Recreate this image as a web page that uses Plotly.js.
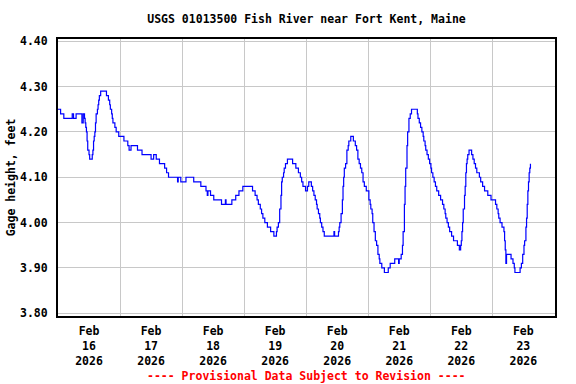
<!DOCTYPE html>
<html><head><meta charset="utf-8">
<script src="https://cdn.plot.ly/plotly-3.0.1.min.js"></script>
<style>html,body{margin:0;padding:0;background:#fff;}#chart{width:576px;height:384px;}</style>
</head><body><div id="chart"></div>
<script>
// Gage height readings (feet) at the times where the reading changed
const feb16Times = ['00:00','01:00','02:15','05:30','06:00','07:00','09:15','09:45','10:15','10:30','10:45','11:00','11:15','11:30','12:00','12:15','13:15','13:30','13:45','14:00','14:15','14:30','14:45','15:15','15:30','15:45','16:00','16:30','18:45','19:30','20:00','20:15','20:45','21:00','21:15','22:00','22:30','23:30'];
const feb16Values = [4.25,4.24,4.23,4.24,4.23,4.24,4.22,4.24,4.23,4.22,4.21,4.20,4.18,4.16,4.15,4.14,4.15,4.16,4.18,4.19,4.20,4.22,4.24,4.25,4.26,4.27,4.28,4.29,4.28,4.27,4.26,4.25,4.24,4.23,4.22,4.21,4.20,4.19];
const feb17Times = ['01:30','03:00','03:30','04:15','06:45','08:30','12:00','13:00','14:00','15:15','17:15','18:00','18:45','22:15','22:30','23:30'];
const feb17Values = [4.18,4.17,4.16,4.17,4.16,4.15,4.14,4.15,4.14,4.13,4.12,4.11,4.10,4.09,4.10,4.09];
const feb18Times = ['01:30','04:30','07:15','09:15','09:45','10:00','11:00','12:15','15:15','16:45','17:00','19:15','20:45','22:00','23:30'];
const feb18Values = [4.10,4.09,4.08,4.07,4.06,4.07,4.06,4.05,4.04,4.05,4.04,4.05,4.06,4.07,4.08];
const feb19Times = ['03:15','04:15','05:00','05:30','06:15','06:45','07:15','08:00','09:00','10:15','11:30','12:30','12:45','13:15','13:45','14:15','14:30','14:45','15:15','15:30','16:00','16:45','18:45','20:00','21:00','21:45','22:15','22:45','23:45'];
const feb19Values = [4.07,4.06,4.05,4.04,4.03,4.02,4.01,4.00,3.99,3.98,3.97,3.98,3.99,4.00,4.03,4.06,4.09,4.10,4.11,4.12,4.13,4.14,4.13,4.12,4.11,4.10,4.09,4.08,4.07];
const feb20Times = ['00:30','01:00','02:00','02:30','03:00','03:30','04:00','04:15','04:45','05:15','05:30','06:00','06:30','07:00','10:45','11:00','12:30','12:45','13:00','13:30','14:00','14:15','14:30','14:45','15:15','15:45','16:15','16:30','17:15','18:15','19:00','19:30','20:00','20:30','21:00','21:30','22:00','22:30','23:15'];
const feb20Values = [4.08,4.09,4.08,4.07,4.06,4.05,4.04,4.03,4.02,4.01,4.00,3.99,3.98,3.97,3.98,3.97,3.98,3.99,4.00,4.02,4.05,4.08,4.10,4.12,4.13,4.16,4.17,4.18,4.19,4.18,4.17,4.16,4.14,4.13,4.12,4.11,4.09,4.08,4.07];
const feb21Times = ['00:15','00:45','01:00','01:30','01:45','02:15','02:45','03:15','03:45','04:15','04:30','05:15','06:15','07:45','08:30','10:15','11:45','12:00','12:45','13:15','13:30','14:00','14:15','14:30','15:00','15:15','15:45','16:15','16:45','19:00','19:15','19:45','20:15','20:45','21:15','21:30','22:00','22:15','22:45','23:15','23:45'];
const feb21Values = [4.05,4.04,4.03,4.02,4.00,3.98,3.96,3.95,3.93,3.92,3.91,3.90,3.89,3.90,3.91,3.92,3.91,3.92,3.93,3.95,3.98,4.04,4.08,4.12,4.17,4.20,4.23,4.24,4.25,4.24,4.23,4.22,4.21,4.20,4.19,4.18,4.17,4.16,4.15,4.14,4.13];
const feb22Times = ['00:15','00:30','01:00','01:30','02:00','02:30','03:15','04:00','04:45','05:15','05:45','06:00','06:30','07:00','07:30','08:15','09:00','10:30','11:15','11:45','12:00','12:15','12:30','12:45','13:15','13:30','13:45','14:00','14:15','14:30','15:00','16:00','16:30','17:00','17:30','18:00','19:00','19:30','20:15','21:00','22:15','23:30'];
const feb22Values = [4.12,4.11,4.10,4.09,4.08,4.07,4.06,4.05,4.04,4.03,4.02,4.01,4.00,3.99,3.98,3.97,3.96,3.95,3.94,3.95,3.96,3.98,4.00,4.03,4.06,4.08,4.11,4.13,4.14,4.15,4.16,4.15,4.14,4.13,4.12,4.11,4.10,4.09,4.08,4.07,4.06,4.05];
const feb23Times = ['00:30','01:15','01:45','02:15','02:30','03:00','03:45','04:30','04:45','05:00','05:15','05:30','07:15','08:00','08:30','08:45','10:45','11:15','11:45','12:15','12:30','13:00','13:15','13:30','13:45','14:00','14:15','14:30','14:45'];
const feb23Values = [4.05,4.04,4.03,4.02,4.01,4.00,3.99,3.98,3.96,3.94,3.91,3.93,3.92,3.91,3.90,3.89,3.90,3.91,3.93,3.95,3.96,3.99,4.01,4.04,4.07,4.09,4.11,4.12,4.13];

const dayDates = ['2026-02-16','2026-02-17','2026-02-18','2026-02-19','2026-02-20','2026-02-21','2026-02-22','2026-02-23'];
const dayTickLabels = ['Feb<br>16<br>2026','Feb<br>17<br>2026','Feb<br>18<br>2026','Feb<br>19<br>2026','Feb<br>20<br>2026','Feb<br>21<br>2026','Feb<br>22<br>2026','Feb<br>23<br>2026'];
const yTickVals = [3.80,3.90,4.00,4.10,4.20,4.30,4.40];
const yTickLabels = ['3.80','3.90','4.00','4.10','4.20','4.30','4.40'];
const chartTitle = 'USGS 01013500 Fish River near Fort Kent, Maine';
const yTitle = 'Gage height, feet';
const footer = '---- Provisional Data Subject to Revision ----';

const dayTimes = [feb16Times,feb17Times,feb18Times,feb19Times,feb20Times,feb21Times,feb22Times,feb23Times];
const dayValues = [feb16Values,feb17Values,feb18Values,feb19Values,feb20Values,feb21Values,feb22Values,feb23Values];
const x = [], y = [];
dayTimes.forEach((ts, i) => ts.forEach((t, j) => { x.push(dayDates[i] + ' ' + t); y.push(dayValues[i][j]); }));

const noonTicks = dayDates.map(d => d + ' 12:00');
const midnights = dayDates.slice(1).map(d => d + ' 00:00');

const FONT = 'DejaVu Sans Mono';
const trace = {x: x, y: y, type: 'scatter', mode: 'lines', line: {color: '#0000ff', width: 1.2, shape: 'hv'}, hoverinfo: 'skip'};

const layout = {
  width: 576, height: 384,
  margin: {l: 58, r: 21, t: 39, b: 68, pad: 0},
  paper_bgcolor: '#ffffff', plot_bgcolor: '#ffffff',
  showlegend: false,
  font: {family: FONT, size: 11.5, color: '#000000', weight: 'bold'},
  title: {text: chartTitle, x: 0.5, xref: 'paper', xanchor: 'center', y: 1 - 19/384, yref: 'container', yanchor: 'middle',
          font: {family: FONT, size: 11.5, color: '#000000', weight: 'bold'}},
  xaxis: {
    type: 'date', range: ['2026-02-16 00:00', '2026-02-24 00:15'],
    tickmode: 'array', tickvals: noonTicks, ticktext: dayTickLabels,
    showgrid: false, zeroline: false, ticks: '',
    ticklabelstandoff: 3,
    minor: {tickmode: 'array', tickvals: midnights, showgrid: true, gridcolor: '#c8c8c8', gridwidth: 1, ticks: ''},
    showline: true, mirror: true, linecolor: '#000000', linewidth: 2,
    tickfont: {family: FONT, size: 11.5, color: '#000000', weight: 'bold'}
  },
  yaxis: {
    range: [3.794, 4.405],
    tickmode: 'array', tickvals: yTickVals, ticktext: yTickLabels,
    showgrid: true, gridcolor: '#c8c8c8', gridwidth: 1, zeroline: false, ticks: '',
    ticklabelstandoff: 6,
    showline: true, mirror: true, linecolor: '#000000', linewidth: 2,
    tickfont: {family: FONT, size: 11.5, color: '#000000', weight: 'bold'},
    title: {text: yTitle, standoff: 2, font: {family: FONT, size: 11.5, color: '#000000', weight: 'bold'}}
  },
  annotations: [{text: footer, xref: 'paper', yref: 'paper', x: 0.5, y: -(376 - 316)/277, xanchor: 'center', yanchor: 'middle', showarrow: false,
                 font: {family: FONT, size: 11.5, color: '#ff0000', weight: 'bold'}}]
};

Plotly.newPlot('chart', [trace], layout, {staticPlot: true, displayModeBar: false});
</script>
</body></html>
